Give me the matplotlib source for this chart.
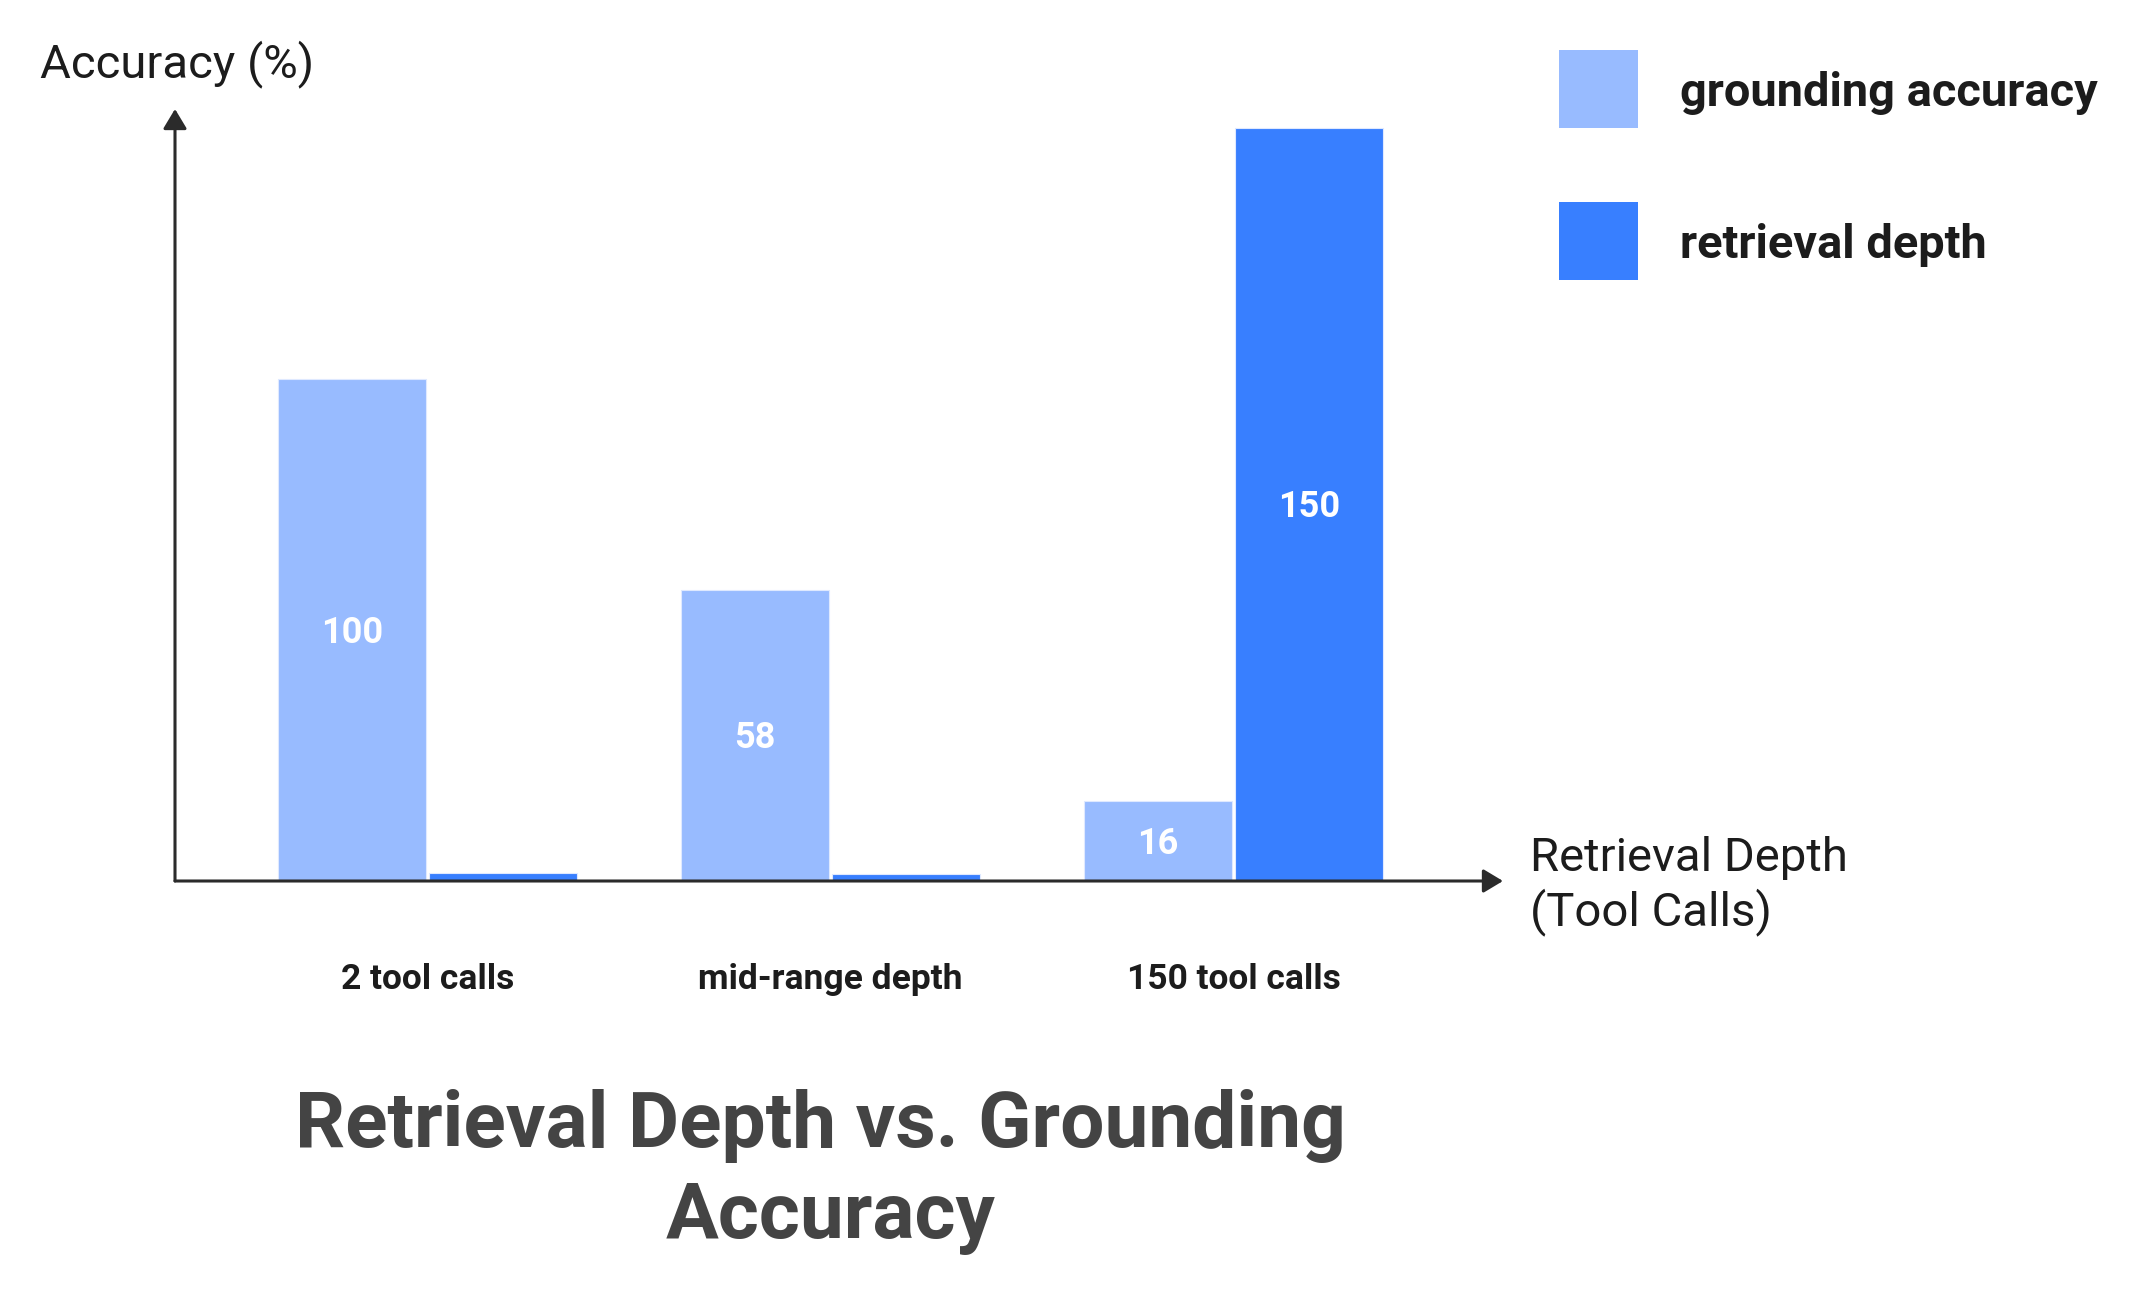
import matplotlib
matplotlib.use("Agg")
import matplotlib.pyplot as plt
from matplotlib.patches import Rectangle
import numpy as np

plt.rcParams['font.family'] = ['Roboto', 'DejaVu Sans']

categories = ["2 tool calls", "mid-range depth", "150 tool calls"]
grounding_accuracy = [100, 58, 16]
retrieval_depth = [1.5, 1.3, 150]
series_names = ["grounding accuracy", "retrieval depth"]
depth_labels = ["", "", "150"]
title_lines = ["Retrieval Depth vs. Grounding", "Accuracy"]

LIGHT = "#98bbff"
BLUE = "#387fff"
AXIS = "#2b2b2b"
TEXT = "#1c1c1c"

W, H = 2139, 1298
fig = plt.figure(figsize=(W / 100, H / 100), dpi=100)

def fx(px):
    return px / W

def fy(py):
    return 1 - py / H

ax_left, ax_right, ax_bottom, ax_top = 175, 1503, 881, 109
ax = fig.add_axes([fx(ax_left), fy(ax_bottom), fx(ax_right - ax_left), (ax_bottom - ax_top) / H])

scale = 5.02  # px per unit
spacing = 403.0
x = np.arange(len(categories))
width = 148 / spacing
off = (148 + 3) / 2 / spacing

b1 = ax.bar(x - off, grounding_accuracy, width=width, color=LIGHT, edgecolor="#dfe9ff", linewidth=0.8)
b2 = ax.bar(x + off, retrieval_depth, width=width, color=BLUE, edgecolor="#dfe9ff", linewidth=0.8)

ax.bar_label(b1, labels=[str(v) for v in grounding_accuracy], label_type="center",
             color="white", fontsize=26, fontweight="bold", padding=-2)
ax.bar_label(b2, labels=depth_labels, label_type="center",
             color="white", fontsize=26, fontweight="bold", padding=-2)

ax.set_xlim((ax_left - 427.5) / spacing, (ax_right - 427.5) / spacing)
ax.set_ylim(0, (ax_bottom - ax_top) / scale)

ax.set_xticks(x, categories, fontsize=25.5, fontweight="bold", color=TEXT)
ax.tick_params(axis="x", length=0, pad=59)
ax.set_yticks([])
for s in ax.spines.values():
    s.set_visible(False)

arrow = dict(arrowstyle="-|>,head_length=0.4,head_width=0.24", lw=2.2, color=AXIS,
             mutation_scale=30, shrinkA=0, shrinkB=0)
ax.annotate("", xy=(0, 1), xytext=(0, 0), xycoords="axes fraction", arrowprops=arrow)
ax.annotate("", xy=(1, 0), xytext=(0, 0), xycoords="axes fraction", arrowprops=arrow)

# axis titles
fig.text(fx(40), fy(77), "Accuracy (%)", fontsize=34, color=TEXT, ha="left", va="baseline")
fig.text(fx(1530), fy(886), "Retrieval Depth\n(Tool Calls)", fontsize=34, color=TEXT,
         ha="left", va="center", linespacing=1.23)

# legend
colors = [LIGHT, BLUE]
sq_tops = [50, 202]
for name, c, top in zip(series_names, colors, sq_tops):
    fig.add_artist(Rectangle((fx(1559), fy(top + 78)), fx(79), 78 / H, transform=fig.transFigure,
                             facecolor=c, edgecolor="none"))
    fig.text(fx(1680), fy(top + 43), name, fontsize=33.8, fontweight="bold", color=TEXT,
             ha="left", va="center")

# title (two lines, second line slightly offset as in the reference)
for line, cx, cy in zip(title_lines, [820, 831], [1125.6, 1218.4]):
    fig.text(fx(cx), fy(cy), line, fontsize=56.5, fontweight="bold", color="#444444",
             ha="center", va="center")

fig.savefig("out.png", dpi=100)
